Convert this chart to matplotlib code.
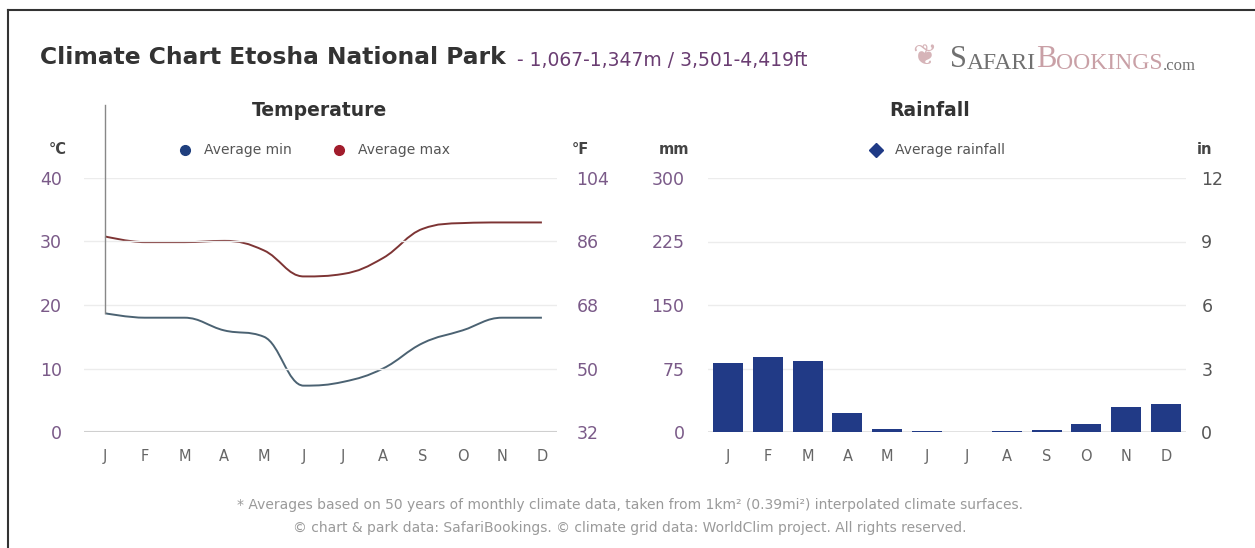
import numpy as np
import matplotlib
matplotlib.use("Agg")
import matplotlib.pyplot as plt
from matplotlib.path import Path
from matplotlib.patches import PathPatch
from matplotlib.lines import Line2D

plt.rcParams['font.family'] = ['DejaVu Sans']

months = ["J", "F", "M", "A", "M", "J", "J", "A", "S", "O", "N", "D"]
temp_min = [18.7, 18, 18, 16, 15, 7.3, 7.9, 10, 14, 16, 18, 18]
temp_max = [30.8, 29.9, 29.9, 30.1, 28.6, 24.5, 24.9, 27.4, 32, 32.9, 33, 33]
rainfall = [81, 88, 84, 23, 3, 1, 0.3, 1, 2, 9, 30, 33]

c_ticks = [0, 10, 20, 30, 40]
f_ticks = [32, 50, 68, 86, 104]
mm_ticks = [0, 75, 150, 225, 300]
in_ticks = [0, 3, 6, 9, 12]

PURPLE = "#7a5a88"
GRAY = "#666666"
MIN_C = "#4b6272"
MAX_C = "#7d3434"
BAR_C = "#213a86"


def spline_path(xs, ys, smoothing=1.5):
    # bezier spline through the points, control points kept between neighbours
    n = len(xs)
    left = [None] * n
    right = [None] * n
    for i in range(n):
        if i == 0 or i == n - 1:
            left[i] = right[i] = (xs[i], ys[i])
            continue
        d = smoothing + 1
        y, py, ny = ys[i], ys[i - 1], ys[i + 1]
        lx = (smoothing * xs[i] + xs[i - 1]) / d
        ly = (smoothing * y + py) / d
        rx = (smoothing * xs[i] + xs[i + 1]) / d
        ry = (smoothing * y + ny) / d
        slope = (ry - ly) / (rx - lx)
        ly = y + (lx - xs[i]) * slope
        ry = y + (rx - xs[i]) * slope
        if ly > py and ly > y:
            ly = max(py, y)
            ry = 2 * y - ly
        elif ly < py and ly < y:
            ly = min(py, y)
            ry = 2 * y - ly
        if ry > ny and ry > y:
            ry = max(ny, y)
            ly = 2 * y - ry
        elif ry < ny and ry < y:
            ry = min(ny, y)
            ly = 2 * y - ry
        left[i] = (lx, ly)
        right[i] = (rx, ry)
    verts = [(xs[0], ys[0])]
    codes = [Path.MOVETO]
    for i in range(1, n):
        verts += [right[i - 1], left[i], (xs[i], ys[i])]
        codes += [Path.CURVE4] * 3
    return Path(verts, codes)


fig = plt.figure(figsize=(12.55, 5.48), dpi=100)
W, H = 1255, 548


def px(xp, yp):
    return xp / W, 1 - yp / H


# outer frame
fig.add_artist(Line2D([8 / W, 1], [1 - 10 / H, 1 - 10 / H], color="#333333", lw=1.5))
fig.add_artist(Line2D([8 / W, 8 / W], [0, 1 - 10 / H], color="#333333", lw=1.5))

# ---- temperature ----
ax = fig.add_axes([84 / W, 116 / H, 473 / W, 254 / H])
x = np.arange(12)
ax.set_xlim(-0.53, 11.38)
ax.set_ylim(0, 40)
ax.add_patch(PathPatch(spline_path(x, temp_max), fill=False, ec=MAX_C, lw=1.4))
ax.add_patch(PathPatch(spline_path(x, temp_min), fill=False, ec=MIN_C, lw=1.4))
ax.plot([0, 0], [temp_min[0], 51.5], color="#888888", lw=1, clip_on=False)
ax.set_yticks(c_ticks)
ax.grid(axis="y", color="#ececec", lw=1)
ax.axhline(0, color="#cfcfcf", lw=1.5)
ax.set_xticks(x)
ax.set_xticklabels(months)
for s in ax.spines.values():
    s.set_visible(False)
ax.tick_params(axis="both", length=0)
ax.tick_params(axis="x", pad=12, labelsize=10.5, labelcolor=GRAY)
ax.tick_params(axis="y", pad=16, labelsize=12.5, labelcolor=PURPLE)
ax2 = ax.twinx()
ax2.set_ylim(32, 104)
ax2.set_yticks(f_ticks)
for s in ax2.spines.values():
    s.set_visible(False)
ax2.tick_params(axis="y", length=0, pad=14, labelsize=12.5, labelcolor=PURPLE)

# ---- rainfall ----
bx = fig.add_axes([708 / W, 116 / H, 478 / W, 254 / H])
bx.set_xlim(-0.5, 11.5)
bx.set_ylim(0, 300)
bx.bar(x, rainfall, width=0.75, color=BAR_C, zorder=3)
bx.set_yticks(mm_ticks)
bx.grid(axis="y", color="#ececec", lw=1)
bx.axhline(0, color="#dddddd", lw=1.2)
bx.set_xticks(x)
bx.set_xticklabels(months)
for s in bx.spines.values():
    s.set_visible(False)
bx.tick_params(axis="both", length=0)
bx.tick_params(axis="x", pad=12, labelsize=10.5, labelcolor=GRAY)
bx.tick_params(axis="y", pad=17, labelsize=12.5, labelcolor=PURPLE)
bx2 = bx.twinx()
bx2.set_ylim(0, 12)
bx2.set_yticks(in_ticks)
for s in bx2.spines.values():
    s.set_visible(False)
bx2.tick_params(axis="y", length=0, pad=11, labelsize=12.5, labelcolor="#555555")

# titles
fig.text(*px(40, 58), "Climate Chart Etosha National Park", fontsize=16.8, fontweight="bold",
         color="#333333", va="center", ha="left")
fig.text(*px(517, 60), "- 1,067-1,347m / 3,501-4,419ft", fontsize=13.5, color="#6a3d72",
         va="center", ha="left")

# logo text, pieces chained one after the other
logo = [("S", 22, "#707070"), ("AFARI", 17, "#707070"), ("B", 22, "#c9a0a6"),
        ("OOKINGS", 17, "#c9a0a6"), (".com", 12, "#707070")]
anchor = fig.text(*px(950, 67), logo[0][0], fontsize=logo[0][1], color=logo[0][2],
                  family="Liberation Serif", va="baseline", ha="left")
for txt, size, col in logo[1:]:
    anchor = bx2.annotate(txt, xy=(1, 0), xycoords=anchor, fontsize=size, color=col,
                          family="Liberation Serif", va="bottom", ha="left",
                          annotation_clip=False)
fig.text(*px(912, 57), "\u2766", fontsize=21, color="#d6b4b8", va="center", ha="left")

fig.text(*px(320, 110), "Temperature", fontsize=13.5, fontweight="bold", color="#333333",
         ha="center", va="center")
fig.text(*px(930, 110), "Rainfall", fontsize=13.5, fontweight="bold", color="#333333",
         ha="center", va="center")

# unit labels
for (xp, t) in [(58, "°C"), (580, "°F"), (674, "mm"), (1205, "in")]:
    fig.text(*px(xp, 150), t, fontsize=10.5, fontweight="bold", color="#444444",
             ha="center", va="center")


def legend_item(xp, label, color, marker):
    fig.add_artist(Line2D([xp / W], [1 - 150 / H], marker=marker, color=color,
                          markersize=7, linestyle="none"))
    fig.text(*px(xp + 19, 150), label, fontsize=10, color="#555555", ha="left", va="center")


legend_item(185, "Average min", "#1f3f7e", "o")
legend_item(339, "Average max", "#a11c2c", "o")
legend_item(876, "Average rainfall", "#1f3a86", "D")

# footnotes
fig.text(*px(630, 505), "* Averages based on 50 years of monthly climate data, taken from 1km² (0.39mi²) "
         "interpolated climate surfaces.", fontsize=10, color="#9a9a9a", ha="center", va="center")
fig.text(*px(630, 528), "© chart & park data: SafariBookings. © climate grid data: WorldClim project. "
         "All rights reserved.", fontsize=10, color="#9a9a9a", ha="center", va="center")

fig.savefig("out.png", dpi=100)
